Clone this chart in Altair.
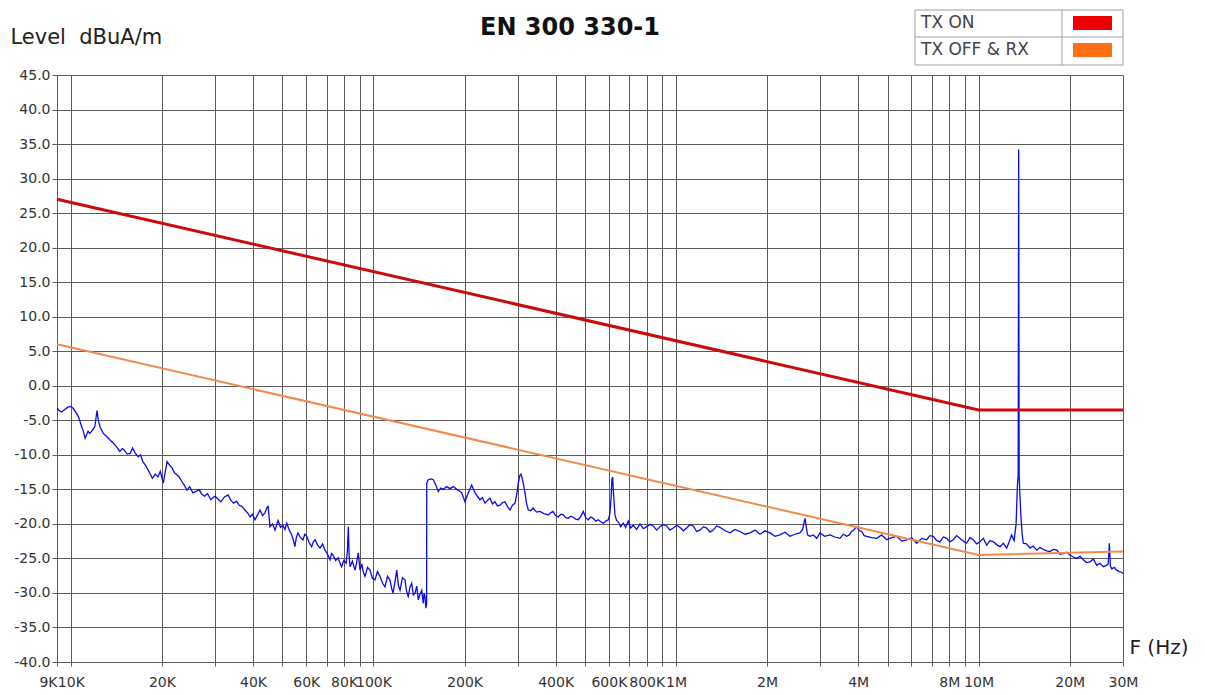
import altair as alt
import pandas as pd

# ---------------- data ----------------
TITLE = "EN 300 330-1"
Y_TITLE = "Level\u00a0 dBuA/m"
X_TITLE = "F (Hz)"
SERIES = ["TX ON", "TX OFF & RX"]
LINE_COLORS = ["#cc0a0a", "#f28a4e"]
SWATCH_COLORS = ["#ee0000", "#ff6f12"]
MEAS_COLOR = "#0a0aee"

# limit lines (Hz, dBuA/m)
TXON_F_HZ = [9000, 10000000, 30000000]
TXON_DB = [27.0, -3.5, -3.5]
TXOFF_F_HZ = [9000, 10000000, 30000000]
TXOFF_DB = [6.0, -24.5, -24.0]

MEAS_F_KHZ = [
    9.0, 9.15, 9.32, 9.5, 9.7, 9.9, 10.05, 10.2, 10.4, 10.6,
    10.8, 11.0, 11.15, 11.3, 11.4, 11.55, 11.7, 11.85, 12.0, 12.1,
    12.2, 12.35, 12.5, 12.8, 13.1, 13.5, 13.8, 14.15, 14.5, 14.8,
    15.0, 15.35, 15.7, 16.0, 16.35, 16.7, 17.0, 17.3, 17.7, 18.2,
    18.6, 19.0, 19.4, 19.75, 20.2, 20.5, 20.8, 21.2, 21.6, 22.0,
    22.4, 22.8, 23.3, 23.7, 24.2, 24.7, 25.3, 25.9, 26.5, 27.1,
    27.7, 28.3, 29.0, 29.5, 30.0, 30.6, 31.3, 32.2, 33.1, 33.8,
    34.5, 35.3, 36.0, 36.8, 37.6, 38.4, 39.1, 39.8, 40.6, 41.4,
    42.2, 43.0, 43.8, 44.5, 44.9, 45.5, 46.4, 47.3, 47.9, 48.4,
    49.3, 50.2, 51.0, 51.7, 52.7, 53.7, 54.4, 55.0, 55.6, 56.3,
    57.4, 58.5, 59.3, 60.2, 61.3, 62.5, 63.3, 64.1, 65.3, 66.6,
    67.9, 69.2, 70.5, 71.9, 72.7, 73.5, 75.0, 76.4, 77.4, 78.5,
    79.8, 81.2, 82.0, 82.6, 83.1, 83.7, 85.2, 86.9, 88.0, 89.1,
    90.3, 91.5, 92.6, 93.8, 95.6, 97.4, 99.3, 101.2, 103.1, 105.1,
    107.2, 109.2, 111.3, 113.4, 114.8, 116.1, 117.8, 119.4, 120.9, 122.4,
    124.7, 127.1, 128.7, 130.3, 132.0, 133.8, 135.5, 137.3, 139.0, 140.7,
    142.5, 144.4, 146.1, 147.0, 148.0, 149.0, 149.9,
    150.0, 151.8, 154.7, 157.7, 160.5, 163.8, 167.0, 170.2, 174.5, 179.1,
    183.8, 188.5, 192.0, 195.8, 200.7, 205.8, 211.2, 216.6, 220.5, 224.9,
    229.0, 233.7, 238.0, 242.7, 247.3, 252.2, 257.0, 262.0, 267.0, 272.1,
    277.4, 282.7, 288.0, 293.7, 298.0, 301.1, 304.5, 307.4, 311.0, 316.9,
    320.5, 325.0, 330.5, 336.8, 346.0, 355.2, 366.0, 378.3, 385.0, 392.0,
    400.0, 408.2, 416.0, 424.1, 432.0, 440.5, 448.5, 456.5, 466.0, 475.3,
    484.5, 493.7, 503.0, 513.0, 522.5, 532.8, 543.0, 553.4, 564.0, 574.9,
    586.0, 597.2, 604.0, 609.6, 614.0, 617.4, 621.0, 628.3, 636.0, 644.3,
    656, 669.3, 682, 695.4, 708, 722.3, 741, 760, 780, 800,
    820, 841, 863, 885, 908, 931, 955, 979, 1005, 1030,
    1057, 1084, 1112, 1140, 1170, 1200, 1231, 1263, 1295, 1328,
    1362, 1397, 1452, 1508, 1565, 1626, 1690, 1756, 1825, 1894,
    1968, 2044, 2124, 2206, 2292, 2380, 2470, 2568, 2620, 2668,
    2720, 2771, 2845, 2916, 2991, 3100, 3227, 3350, 3482, 3570,
    3664, 3740, 3806, 3880, 3954, 4030, 4107, 4185, 4266, 4430,
    4604, 4780, 4969, 5160, 5361, 5570, 5784, 6010, 6242, 6490,
    6736, 6900, 7082, 7260, 7454, 7640, 7843, 8040, 8246, 8460,
    8679, 8900, 9131, 9360, 9603, 9850, 10103, 10370, 10635, 10900,
    11183, 11470, 11767, 12070, 12382, 12620, 12860, 13100, 13300, 13430,
    13510, 13560, 13610, 13690, 13800, 13920, 14047, 14400, 14783, 15150,
    15558, 15950, 16352, 16780, 17209, 17650, 18111, 18570, 19043, 19540,
    20041, 20560, 21092, 21630, 22178, 22750, 23341, 23940, 24564, 25190,
    25829, 26450, 26800, 27034, 27250, 27532, 28050, 28599, 29150, 29707, 30000,
]
MEAS_DB = [
    -3.2, -3.6, -3.8, -3.5, -3.2, -3.0, -3.1, -3.3, -3.9, -4.5,
    -5.6, -6.6, -7.6, -7.0, -6.6, -6.9, -6.6, -6.3, -5.9, -4.8,
    -3.6, -5.2, -6.0, -6.9, -7.3, -7.9, -8.3, -8.8, -9.5, -9.1,
    -9.3, -9.9, -9.8, -9.0, -9.8, -10.3, -10.0, -11.0, -11.6, -12.6,
    -13.4, -12.8, -13.2, -12.4, -14.1, -12.5, -11.0, -11.5, -11.9, -12.6,
    -12.9, -13.2, -13.9, -14.4, -15.1, -14.6, -15.5, -15.3, -15.0, -15.7,
    -16.0, -15.6, -16.5, -16.2, -16.0, -16.4, -16.8, -16.1, -15.8, -16.6,
    -17.0, -16.7, -17.3, -17.5, -18.0, -18.4, -19.0, -18.6, -19.4, -18.7,
    -18.0, -18.8, -18.4, -17.6, -17.5, -20.4, -20.0, -20.9, -20.1, -19.5,
    -20.5, -20.2, -20.8, -19.9, -20.9, -21.6, -22.4, -23.3, -22.0, -21.3,
    -22.0, -22.3, -21.5, -21.8, -22.7, -23.3, -22.6, -22.3, -23.0, -23.5,
    -22.9, -23.8, -24.4, -25.2, -24.3, -24.5, -25.3, -24.9, -25.6, -26.2,
    -25.3, -25.7, -24.0, -20.4, -24.5, -26.2, -25.4, -26.7, -25.6, -24.2,
    -26.7, -25.8, -27.0, -27.6, -26.3, -26.7, -27.9, -28.1, -26.9, -27.6,
    -28.6, -29.1, -27.6, -28.1, -29.3, -30.0, -28.4, -26.7, -28.9, -29.6,
    -27.8, -28.1, -29.8, -30.5, -29.2, -28.6, -30.3, -30.0, -29.0, -31.0,
    -30.2, -29.6, -31.5, -30.1, -30.5, -32.2, -31.6,
    -14.1, -13.6, -13.5, -13.6, -14.3, -15.3, -14.8, -15.0, -14.6, -14.9,
    -14.6, -15.0, -15.2, -15.5, -16.8, -15.5, -14.4, -15.5, -16.0, -16.5,
    -16.2, -17.0, -16.6, -16.3, -17.1, -16.8, -17.4, -17.3, -16.9, -16.8,
    -17.5, -18.0, -17.3, -17.0, -15.6, -14.1, -13.0, -12.8, -13.6, -15.5,
    -17.0, -18.0, -18.1, -17.7, -18.3, -18.2, -18.5, -18.7, -18.4, -18.2,
    -18.8, -19.0, -18.6, -18.7, -19.1, -19.2, -18.9, -19.0, -19.3, -19.4,
    -18.9, -18.2, -19.1, -19.4, -19.0, -19.2, -19.6, -19.4, -19.7, -19.9,
    -19.6, -19.4, -18.6, -16.5, -13.6, -13.2, -15.5, -18.7, -19.5, -19.7,
    -20.4, -19.9, -20.5, -19.6, -20.6, -20.2, -20.8, -20.0, -20.7, -20.4,
    -20.1, -20.3, -20.9, -20.4, -20.1, -20.3, -20.9, -20.6, -20.2, -20.5,
    -21.0, -20.6, -20.1, -20.3, -21.1, -20.9, -20.4, -20.6, -21.2, -20.9,
    -20.3, -20.5, -21.0, -21.3, -20.8, -21.1, -21.5, -21.3, -20.9, -21.5,
    -21.0, -21.3, -21.8, -21.6, -21.2, -21.8, -21.5, -21.3, -20.8, -19.2,
    -21.6, -21.8, -21.6, -22.1, -21.3, -21.8, -21.6, -21.9, -22.1, -21.5,
    -21.8, -21.6, -21.1, -20.8, -20.4, -21.0, -21.1, -21.7, -21.8, -22.0,
    -22.1, -21.6, -22.3, -22.0, -21.8, -22.5, -22.3, -22.0, -22.8, -22.1,
    -22.3, -21.7, -21.8, -22.4, -22.6, -21.9, -22.1, -22.6, -22.3, -21.7,
    -22.1, -22.5, -22.8, -22.0, -22.3, -22.9, -22.6, -22.1, -23.1, -22.4,
    -22.6, -23.0, -23.3, -22.8, -23.5, -22.6, -21.6, -22.4, -20.0, -14.5,
    -13.0, 34.2, -13.0, -15.8, -19.0, -21.4, -22.8, -22.9, -23.5, -23.2,
    -23.8, -23.4, -23.7, -23.9, -24.0, -23.7, -23.8, -24.4, -24.3, -24.1,
    -24.5, -24.8, -25.0, -24.7, -25.2, -25.6, -25.5, -25.1, -26.0, -25.7,
    -26.2, -26.0, -25.8, -22.8, -26.1, -26.5, -26.3, -26.7, -26.9, -27.0, -27.2,
]

# axes
X_GRID_HZ = [
    9000, 10000, 20000, 30000, 40000, 50000, 60000, 70000, 80000, 90000,
    100000, 200000, 300000, 400000, 500000, 600000, 700000, 800000, 900000,
    1000000, 2000000, 3000000, 4000000, 5000000, 6000000, 7000000, 8000000, 9000000,
    10000000, 20000000, 30000000,
]
X_LABEL_HZ = [9000, 10000, 20000, 40000, 60000, 80000, 100000, 200000, 400000,
              600000, 800000, 1000000, 2000000, 4000000, 8000000, 10000000,
              20000000, 30000000]
X_LABEL_TEXT = ["9K", "10K", "20K", "40K", "60K", "80K", "100K", "200K", "400K",
                "600K", "800K", "1M", "2M", "4M", "8M", "10M", "20M", "30M"]
Y_TICKS = [-40, -35, -30, -25, -20, -15, -10, -5, 0, 5, 10, 15, 20, 25, 30, 35, 40, 45]

# ---------------- chart ----------------
FONT = "DejaVu Sans"
GRID = "#5c5c5c"

x_expr = " : ".join(
    f"datum.value == {v} ? '{t}'" for v, t in zip(X_LABEL_HZ, X_LABEL_TEXT)
) + " : ''"

x_enc = alt.X(
    "f:Q",
    scale=alt.Scale(type="log", domain=[9000, 30000000], nice=False),
    axis=alt.Axis(
        values=X_GRID_HZ, labelExpr=x_expr, labelOverlap=False, labelFlush=False,
        labelBound=False, grid=True, gridColor=GRID, gridWidth=1, domain=False,
        ticks=True, tickColor=GRID, tickSize=4, labelFont=FONT, labelFontSize=14,
        labelColor="#333333", labelPadding=9,
        labelAlign={"condition": {"test": f"datum.value == {X_LABEL_HZ[0]}", "value": "right"},
                    "value": "center"},
        title=X_TITLE, titleFont=FONT, titleFontSize=20, titleFontWeight="normal",
        titleColor="#222222", titleAngle=0, titleAlign="left", titleBaseline="middle",
        titleX=1072, titleY=-15,
    ),
)
y_enc = alt.Y(
    "db:Q",
    scale=alt.Scale(domain=[-40, 45], nice=False, zero=False),
    axis=alt.Axis(
        values=Y_TICKS, labelExpr="replace(format(datum.value, '.1f'), '\u2212', '-')",
        grid=True, gridColor=GRID, gridWidth=1, domain=False, tickColor=GRID,
        tickSize=5, labelFont=FONT, labelFontSize=14, labelColor="#333333",
        labelPadding=2,
        title=Y_TITLE, titleFont=FONT, titleFontSize=21, titleFontWeight="normal",
        titleColor="#222222", titleAngle=0, titleAlign="left", titleBaseline="middle",
        titleX=-47, titleY=-38,
    ),
)

df_on = pd.DataFrame({"f": TXON_F_HZ, "db": TXON_DB})
df_off = pd.DataFrame({"f": TXOFF_F_HZ, "db": TXOFF_DB})
df_meas = pd.DataFrame({"f": [v * 1000 for v in MEAS_F_KHZ], "db": MEAS_DB})

meas = alt.Chart(df_meas).mark_line(color=MEAS_COLOR, strokeWidth=1.3, clip=True).encode(x=x_enc, y=y_enc)
off = alt.Chart(df_off).mark_line(color=LINE_COLORS[1], strokeWidth=2).encode(x=x_enc, y=y_enc)
on = alt.Chart(df_on).mark_line(color=LINE_COLORS[0], strokeWidth=3).encode(x=x_enc, y=y_enc)

one = pd.DataFrame({"k": [0]})
title = alt.Chart(one).mark_text(
    font=FONT, fontSize=24, fontWeight="bold", color="#111111", align="center", baseline="middle"
).encode(x=alt.value(513), y=alt.value(-47), text=alt.value(TITLE))

# legend table (top right)
leg_box = alt.Chart(one).mark_rect(fill="white", stroke="#a0a0a0", strokeWidth=1).encode(
    x=alt.value(858), x2=alt.value(1066), y=alt.value(-65), y2=alt.value(-10))
leg_row = alt.Chart(one).mark_rule(color="#a0a0a0", strokeWidth=1).encode(
    x=alt.value(858), x2=alt.value(1066), y=alt.value(-38))
leg_col = alt.Chart(one).mark_rule(color="#a0a0a0", strokeWidth=1).encode(
    x=alt.value(1005), y=alt.value(-65), y2=alt.value(-10))
leg_layers = [leg_box, leg_row, leg_col]
for i, (name, col) in enumerate(zip(SERIES, SWATCH_COLORS)):
    ty = -52 + 27 * i
    leg_layers.append(
        alt.Chart(one).mark_text(font=FONT, fontSize=17, color="#444444", align="left",
                                 baseline="middle").encode(
            x=alt.value(864), y=alt.value(ty), text=alt.value(name)))
    leg_layers.append(
        alt.Chart(one).mark_rect(color=col).encode(
            x=alt.value(1016), x2=alt.value(1055), y=alt.value(ty - 7), y2=alt.value(ty + 7)))

chart = alt.layer(meas, off, on, title, *leg_layers).properties(
    width=1066, height=587,
    autosize=alt.AutoSizeParams(type="none"),
    padding={"left": 57, "top": 75, "right": 82, "bottom": 33},
    background="white",
).configure_view(stroke=None)

chart.save("out.html", embed_options={"renderer": "svg", "actions": False})
